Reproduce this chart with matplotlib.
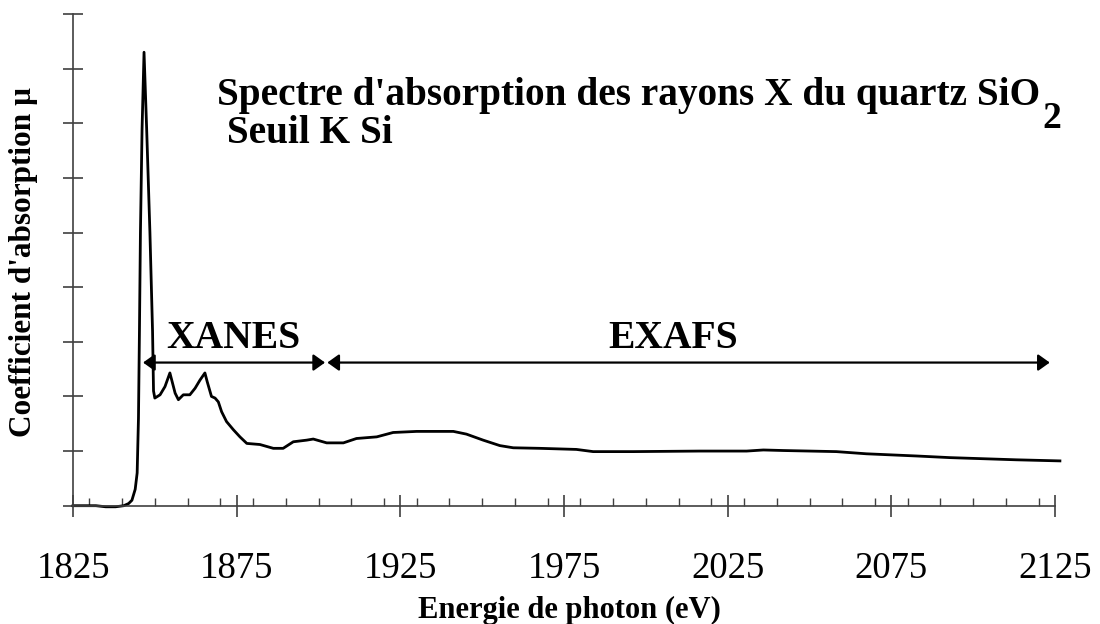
import matplotlib
matplotlib.use('Agg')
import matplotlib.pyplot as plt
from matplotlib.ticker import MultipleLocator

# spectrum (energy in eV, absorption in arbitrary units)
energy = [1825, 1832, 1835, 1838, 1840.5, 1842, 1843, 1844, 1844.6, 1845.0,
          1845.3, 1845.6, 1846.1, 1846.7, 1847.5, 1848.5, 1849.3, 1849.6, 1850.0,
          1851.6, 1853.1, 1854.6, 1856.2, 1857.2, 1858.7, 1860.7, 1862.3, 1863.8,
          1865.3, 1866.0, 1867.3, 1868.4, 1869.4, 1870.4, 1871.9, 1874.0, 1876.0,
          1878.1, 1882.1, 1886.2, 1889.2, 1892.3, 1896.4, 1898.4, 1902.5, 1907.6,
          1911.6, 1917.8, 1922.8, 1930.0, 1941.2, 1945.2, 1950.3, 1955.4, 1959.5,
          1967.6, 1978.8, 1983.9, 1996.1, 2016.5, 2021.6, 2030.8, 2035.9, 2042.0,
          2058.2, 2067.4, 2082.7, 2092.9, 2103.0, 2113.2, 2126.5]
mu = [0.0, 0.0, -0.02, -0.02, 0.0, 0.04, 0.1, 0.3, 0.6, 1.6,
      3.2, 5.0, 6.9, 8.3, 6.9, 5.0, 3.2, 2.1, 1.97,
      2.03, 2.18, 2.43, 2.06, 1.94, 2.03, 2.03, 2.15, 2.3,
      2.43, 2.27, 2.0, 1.97, 1.90, 1.72, 1.54, 1.39, 1.26,
      1.14, 1.12, 1.05, 1.05, 1.17, 1.20, 1.22, 1.15, 1.15,
      1.23, 1.26, 1.34, 1.36, 1.36, 1.31, 1.20, 1.10, 1.06,
      1.05, 1.03, 0.99, 0.99, 1.00, 1.00, 1.00, 1.02, 1.01,
      0.99, 0.95, 0.91, 0.88, 0.86, 0.84, 0.82]

x_ticks = [1825, 1875, 1925, 1975, 2025, 2075, 2125]

# region arrows: label, start eV, end eV, where the label sits
regions = ['XANES', 'EXAFS']
region_start = [1846.4, 1902.7]
region_end = [1902.0, 2123.4]
label_x = [1873.9, 2008.4]
arrow_level = 2.62
label_level = 2.89

plt.rcParams['font.family'] = 'Liberation Serif'

fig = plt.figure(figsize=(11, 6.24), dpi=100)
ax = fig.add_axes([73 / 1100, 1 - 505.7 / 624, 982 / 1100, 491.7 / 624])

ax.plot(energy, mu, color='black', lw=2.0, clip_on=False)

for name, e0, e1, lx in zip(regions, region_start, region_end, label_x):
    ax.annotate('', xy=(e1, arrow_level), xytext=(e0, arrow_level),
                arrowprops=dict(arrowstyle='<|-|>,head_length=0.35,head_width=0.25',
                                mutation_scale=20, color='black', lw=1.6,
                                shrinkA=0, shrinkB=0))
    ax.text(lx, label_level, name, ha='center', va='baseline',
            fontsize=28.5, fontweight='bold')

ax.set_xlim(1825, 2125)
ax.set_ylim(0, 9)
ax.set_xticks(x_ticks)
ax.xaxis.set_minor_locator(MultipleLocator(10))
ax.yaxis.set_major_locator(MultipleLocator(1))
ax.set_yticklabels([])

for side in ['top', 'right']:
    ax.spines[side].set_visible(False)
for side in ['left', 'bottom']:
    ax.spines[side].set_color('#404040')
    ax.spines[side].set_linewidth(1.2)

ax.tick_params(axis='x', which='major', direction='inout', length=16.5, width=1.2,
               color='#404040', labelsize=26.5, pad=25)
ax.tick_params(axis='x', which='minor', direction='in', length=6, width=1.0,
               color='#404040')
ax.tick_params(axis='y', direction='inout', length=14.5, width=1.2, color='#404040')

fig.text(569 / 1100, 1 - 610 / 624, 'Energie de photon (eV)', ha='center', va='center',
         fontsize=22, fontweight='bold')
fig.text(24 / 1100, 1 - 262 / 624, "Coefficient d'absorption \u03bc", ha='center',
         va='center', rotation=90, fontsize=22.5, fontweight='bold')

fig.text(217 / 1100, 1 - 105 / 624, "Spectre d'absorption des rayons X du quartz SiO",
         ha='left', va='baseline', fontsize=28.3, fontweight='bold')
fig.text(1042 / 1100, 1 - 128 / 624, '2', ha='left', va='baseline',
         fontsize=27, fontweight='bold')
fig.text(217 / 1100, 1 - 143 / 624, ' Seuil K Si', ha='left', va='baseline',
         fontsize=28.3, fontweight='bold')

fig.savefig('out.png', dpi=100)
